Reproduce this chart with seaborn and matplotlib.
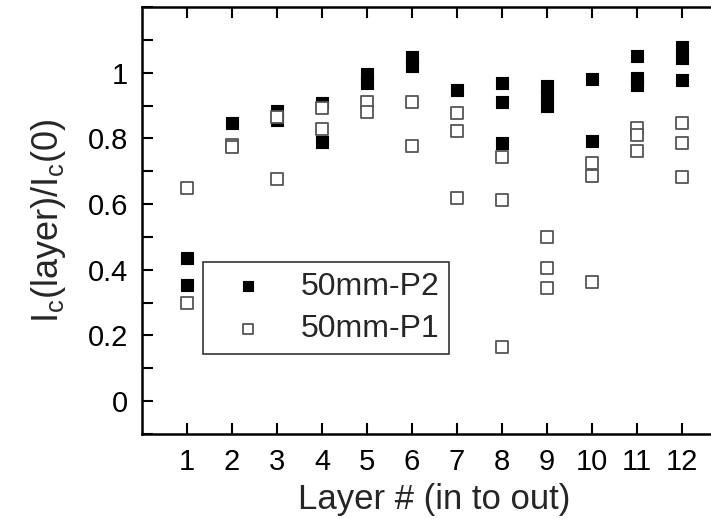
import numpy as np
import pandas as pd
import matplotlib
matplotlib.use("Agg")
import matplotlib.pyplot as plt
import seaborn as sns
from matplotlib.ticker import MultipleLocator, FixedLocator

# ---- data ----
layers_p2 = [1, 1, 2, 3, 3, 4, 4, 5, 5, 6, 6, 7, 8, 8, 8, 9, 9, 9, 10, 10, 11, 11, 11, 12, 12, 12]
values_p2 = [0.435, 0.355, 0.847, 0.884, 0.857, 0.908, 0.789, 0.996, 0.970, 1.048, 1.020,
             0.946, 0.968, 0.910, 0.785, 0.960, 0.930, 0.898, 0.982, 0.792,
             1.051, 0.983, 0.963, 1.078, 1.045, 0.977]
layers_p1 = [1, 1, 2, 2, 3, 3, 4, 4, 5, 5, 6, 6, 7, 7, 7, 8, 8, 8, 9, 9, 9, 10, 10, 10, 11, 11, 11, 12, 12, 12]
values_p1 = [0.649, 0.298, 0.780, 0.775, 0.866, 0.675, 0.892, 0.830, 0.912, 0.881, 0.910, 0.777,
             0.877, 0.821, 0.617, 0.744, 0.611, 0.164, 0.499, 0.406, 0.346,
             0.724, 0.685, 0.363, 0.833, 0.810, 0.762, 0.847, 0.785, 0.683]
label_p2 = "50mm-P2"
label_p1 = "50mm-P1"
x_ticks = list(range(1, 13))
y_ticks = [0, 0.2, 0.4, 0.6, 0.8, 1]
y_tick_labels = ["0", "0.2", "0.4", "0.6", "0.8", "1"]

df_p2 = pd.DataFrame({"layer": layers_p2, "ratio": values_p2})
df_p1 = pd.DataFrame({"layer": layers_p1, "ratio": values_p1})

sns.set_style("ticks")
plt.rcParams["font.family"] = ["Liberation Sans", "DejaVu Sans"]
plt.rcParams["mathtext.fontset"] = "custom"
plt.rcParams["mathtext.rm"] = "Liberation Sans"
plt.rcParams["mathtext.it"] = "Liberation Sans:italic"

fig = plt.figure(figsize=(7.11, 5.19), dpi=100)
W, H = 711, 519
left_px, right_px, top_px, bottom_px = 142, 727, 7, 434
ax = fig.add_axes([left_px / W, 1 - bottom_px / H, (right_px - left_px) / W, (bottom_px - top_px) / H])

sns.scatterplot(data=df_p2, x="layer", y="ratio", ax=ax, marker="s", s=80,
                color="black", edgecolor="black", linewidth=0.8, label=label_p2, zorder=3)
sns.scatterplot(data=df_p1, x="layer", y="ratio", ax=ax, marker="s", s=72,
                facecolor="white", edgecolor="#555555", linewidth=1.3, label=label_p1, zorder=4)

ax.set_xlim(0, 13)
ax.set_ylim(-0.1, 1.2)
ax.set_xticks(x_ticks)
ax.set_xticklabels([str(t) for t in x_ticks])
ax.set_yticks(y_ticks)
ax.set_yticklabels(y_tick_labels)
ax.yaxis.set_minor_locator(MultipleLocator(0.1))

ax.tick_params(axis="both", which="both", direction="in", length=8, width=1.5,
               top=True, right=True, labelsize=21, pad=10, colors="black")
ax.tick_params(axis="x", which="minor", top=False, bottom=False)
for sp in ax.spines.values():
    sp.set_linewidth(1.8)
    sp.set_color("black")

ax.set_xlabel("Layer # (in to out)", fontsize=25, labelpad=5)
ax.set_ylabel(r"I$_\mathregular{c}$(layer)/I$_\mathregular{c}$(0)", fontsize=26, labelpad=14)

leg = ax.legend(loc="upper left", bbox_to_anchor=(203 / W, 1 - 262 / H),
                bbox_transform=fig.transFigure, borderaxespad=0, fontsize=23,
                frameon=True, fancybox=False, shadow=False, framealpha=1,
                edgecolor="#333333", markerscale=0.85, handletextpad=0.55,
                borderpad=0.3, labelspacing=0.4, handlelength=2.2)
leg.get_frame().set_linewidth(1.2)

fig.savefig("out.png", dpi=100)
